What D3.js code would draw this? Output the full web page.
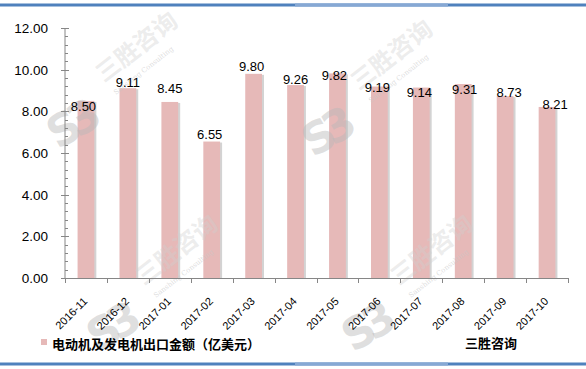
<!DOCTYPE html>
<html>
<head>
<meta charset="utf-8">
<script src="https://cdn.jsdelivr.net/npm/d3@7"></script>
<style>
  body { margin: 0; background: #fff; }
  svg { display: block; }
</style>
</head>
<body>
<div id="chart"></div>
<script>
// chart data
const months = ["2016-11", "2016-12", "2017-01", "2017-02", "2017-03", "2017-04",
                "2017-05", "2017-06", "2017-07", "2017-08", "2017-09", "2017-10"];
const exportValue = [8.50, 9.11, 8.45, 6.55, 9.80, 9.26, 9.82, 9.19, 9.14, 9.31, 8.73, 8.21];
const yTicks = [0, 2, 4, 6, 8, 10, 12];
const seriesName = "电动机及发电机出口金额（亿美元）";
const sourceName = "三胜咨询";

// labels were hand-placed in the original, nudge [dx, dy] from default spot
const labelNudge = [[-2.5, 14], [0, 3], [0, -5], [-2, 1.5], [-2, 1], [0, 3],
                    [-3, 10.6], [-2, 9.5], [-2, 13.4], [1.5, 14], [4, 5], [8, 6]];
// watermark logo centres
const watermarks = [[70, 125], [325, 133], [110, 328], [365, 328]];

const W = 586, H = 369;
const margin = { top: 28, right: 18, bottom: 91, left: 65 };
const barColor = "#e6b9b8";
const axisColor = "#868686";
const numFont = "'Liberation Sans', Arial, sans-serif";
const cjkFont = "'Noto Sans CJK SC', sans-serif";

const svg = d3.select("#chart").append("svg")
    .attr("width", W)
    .attr("height", H);

const x = d3.scaleBand()
    .domain(months)
    .range([margin.left, W - margin.right])
    .paddingInner(0.6)
    .paddingOuter(0.3);

const y = d3.scaleLinear()
    .domain([0, 12])
    .range([H - margin.bottom, margin.top]);

// frame lines top and bottom
[5, 364].forEach(yy => {
    svg.append("line")
        .attr("x1", 0).attr("x2", W)
        .attr("y1", yy).attr("y2", yy)
        .attr("stroke", "#4f81bd")
        .attr("stroke-width", 3);
    svg.append("line")
        .attr("x1", 295).attr("x2", 448)
        .attr("y1", yy).attr("y2", yy)
        .attr("stroke", "#86a8d4")
        .attr("stroke-width", 3);
});

// bars with a thin grey shadow on the right
const bars = svg.append("g").attr("class", "bars");

bars.selectAll(".shadow")
    .data(exportValue)
    .enter()
    .append("rect")
    .attr("class", "shadow")
    .attr("x", (d, i) => x(months[i]) + 2)
    .attr("y", d => y(d) + 1)
    .attr("width", x.bandwidth())
    .attr("height", d => y(0) - y(d) - 1)
    .attr("fill", "#d3d3d3");

bars.selectAll(".bar")
    .data(exportValue)
    .enter()
    .append("rect")
    .attr("class", "bar")
    .attr("x", (d, i) => x(months[i]))
    .attr("y", d => y(d))
    .attr("width", x.bandwidth())
    .attr("height", d => y(0) - y(d))
    .attr("fill", barColor);

// watermark
const wm = svg.append("g").attr("class", "watermark").style("pointer-events", "none");
watermarks.forEach(([lx, ly]) => {
    wm.append("text")
        .attr("transform", `translate(${lx},${ly}) rotate(-30)`)
        .attr("text-anchor", "middle")
        .attr("dy", "0.35em")
        .style("font-family", "'DejaVu Sans', sans-serif")
        .style("font-weight", "bold")
        .style("font-size", "44px")
        .style("letter-spacing", "-8px")
        .attr("fill", "#b8b8b8")
        .attr("fill-opacity", 0.45)
        .text("S3");
    wm.append("text")
        .attr("transform", `translate(${lx + 34},${ly - 42}) rotate(-38)`)
        .style("font-family", cjkFont)
        .style("font-weight", "bold")
        .style("font-size", "24px")
        .attr("fill", "#cfcfcf")
        .attr("fill-opacity", 0.4)
        .text(sourceName);
    wm.append("text")
        .attr("transform", `translate(${lx + 46},${ly - 30}) rotate(-38)`)
        .style("font-family", "'DejaVu Serif', serif")
        .style("font-size", "7px")
        .attr("fill", "#c8c8c8")
        .attr("fill-opacity", 0.6)
        .text("Sanshing Consulting");
});

// y axis
const yAxis = svg.append("g").attr("class", "y-axis");
yAxis.append("line")
    .attr("x1", margin.left).attr("x2", margin.left)
    .attr("y1", y(12)).attr("y2", y(0))
    .attr("stroke", axisColor);

const minorTicks = d3.range(0, 12.0001, 0.4).filter(v => Math.abs(v / 2 - Math.round(v / 2)) > 1e-6);
yAxis.selectAll(".minor")
    .data(minorTicks)
    .enter()
    .append("line")
    .attr("class", "minor")
    .attr("x1", margin.left).attr("x2", margin.left + 3)
    .attr("y1", d => Math.round(y(d)) + 0.5).attr("y2", d => Math.round(y(d)) + 0.5)
    .attr("stroke", axisColor);

yAxis.selectAll(".major")
    .data(yTicks)
    .enter()
    .append("line")
    .attr("class", "major")
    .attr("x1", margin.left - 4).attr("x2", margin.left + 4)
    .attr("y1", d => Math.round(y(d)) + 0.5).attr("y2", d => Math.round(y(d)) + 0.5)
    .attr("stroke", axisColor);

yAxis.selectAll(".ylabel")
    .data(yTicks)
    .enter()
    .append("text")
    .attr("class", "ylabel")
    .attr("x", 48)
    .attr("y", d => y(d))
    .attr("dy", "0.36em")
    .attr("text-anchor", "end")
    .style("font-family", numFont)
    .style("font-size", "13.5px")
    .attr("fill", "#000")
    .text(d => d3.format(".2f")(d));

// x axis, ticks between categories
const xAxis = svg.append("g").attr("class", "x-axis");
const step = x.step();
const x0 = x.range()[0];
xAxis.append("line")
    .attr("x1", x0).attr("x2", x.range()[1])
    .attr("y1", y(0) + 0.5).attr("y2", y(0) + 0.5)
    .attr("stroke", axisColor);

xAxis.selectAll(".xtick")
    .data(d3.range(months.length + 1))
    .enter()
    .append("line")
    .attr("class", "xtick")
    .attr("x1", i => Math.round(x0 + i * step) + 0.5)
    .attr("x2", i => Math.round(x0 + i * step) + 0.5)
    .attr("y1", y(0)).attr("y2", y(0) + 5)
    .attr("stroke", axisColor);

xAxis.selectAll(".xlabel")
    .data(months)
    .enter()
    .append("text")
    .attr("class", "xlabel")
    .attr("transform", d => `translate(${x(d) + x.bandwidth() / 2 + 2},${y(0) + 24}) rotate(-45)`)
    .attr("text-anchor", "end")
    .style("font-family", numFont)
    .style("font-size", "11px")
    .attr("fill", "#000")
    .text(d => d);

// value labels
svg.append("g").attr("class", "labels")
    .selectAll("text")
    .data(exportValue)
    .enter()
    .append("text")
    .attr("x", (d, i) => x(months[i]) + x.bandwidth() / 2 + labelNudge[i][0])
    .attr("y", (d, i) => y(d) - 4 + labelNudge[i][1])
    .attr("text-anchor", "middle")
    .style("font-family", numFont)
    .style("font-size", "13px")
    .attr("fill", "#000")
    .text(d => d3.format(".2f")(d));

// legend + source
const legend = svg.append("g").attr("class", "legend");
legend.append("rect")
    .attr("x", 41).attr("y", 339)
    .attr("width", 6).attr("height", 6)
    .attr("fill", barColor);
legend.append("text")
    .attr("x", 52).attr("y", 344)
    .attr("dy", "0.36em")
    .style("font-family", cjkFont)
    .style("font-weight", "bold")
    .style("font-size", "13px")
    .attr("fill", "#000")
    .text(seriesName);

svg.append("text")
    .attr("x", 465).attr("y", 343)
    .attr("dy", "0.36em")
    .style("font-family", cjkFont)
    .style("font-weight", "bold")
    .style("font-size", "13px")
    .attr("fill", "#000")
    .text(sourceName);
</script>
</body>
</html>
